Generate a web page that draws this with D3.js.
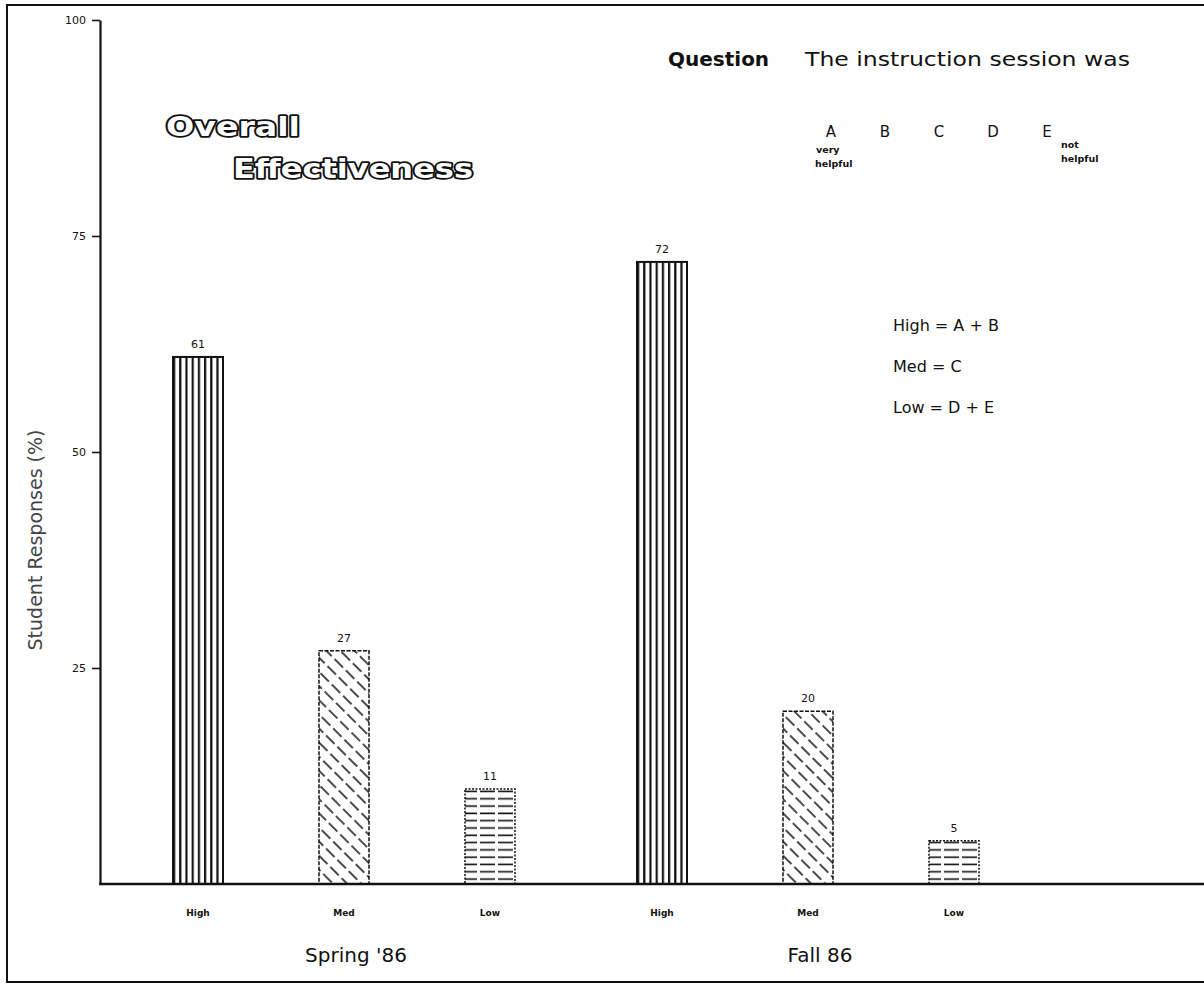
<!DOCTYPE html>
<html>
<head>
<meta charset="utf-8">
<script src="https://cdn.jsdelivr.net/npm/d3@7"></script>
<style>
  body { margin: 0; background: #fff; }
  text { font-family: "DejaVu Sans", sans-serif; fill: #111; }
</style>
</head>
<body>
<div id="chart"></div>
<script>
// data
var groups = ["Spring '86", "Fall 86"];
var levels = ["High", "Med", "Low"];
var spring = [61, 27, 11];
var fall = [72, 20, 5];
var yTicks = [25, 50, 75, 100];
var scaleLetters = ["A", "B", "C", "D", "E"];
var legendLines = ["High = A + B", "Med = C", "Low = D + E"];

var width = 1204, height = 985;
var svg = d3.select('#chart').append('svg')
  .attr('width', width).attr('height', height)
  .style('background', '#fff');

var defs = svg.append('defs');
// vertical stripes for High
var p1 = defs.append('pattern').attr('id', 'pHigh')
  .attr('patternUnits', 'userSpaceOnUse').attr('width', 6.2).attr('height', 10);
p1.append('rect').attr('x', 0).attr('width', 2.2).attr('height', 10).attr('fill', '#111');
// dashed backslash for Med
var p2 = defs.append('pattern').attr('id', 'pMed')
  .attr('patternUnits', 'userSpaceOnUse').attr('width', 16).attr('height', 10)
  .attr('patternTransform', 'rotate(45)');
p2.append('line').attr('x1', 0).attr('x2', 16).attr('y1', 5).attr('y2', 5)
  .attr('stroke', '#111').attr('stroke-width', 1.4).attr('stroke-dasharray', '9 4');
// dashed horizontal for Low
var p3 = defs.append('pattern').attr('id', 'pLow')
  .attr('patternUnits', 'userSpaceOnUse').attr('width', 18).attr('height', 7.3);
p3.append('line').attr('x1', 0).attr('x2', 18).attr('y1', 3).attr('y2', 3)
  .attr('stroke', '#111').attr('stroke-width', 1.6).attr('stroke-dasharray', '12 3');
var fills = { High: 'url(#pHigh)', Med: 'url(#pMed)', Low: 'url(#pLow)' };
var borders = { High: null, Med: '4 1.5', Low: '2 1.5' };

// page frame
svg.append('path')
  .attr('d', 'M1210,5H7V982H1210')
  .attr('fill', 'none').attr('stroke', '#111').attr('stroke-width', 2);

var y = d3.scaleLinear().domain([0, 100]).range([884, 20]);
var x0 = d3.scaleBand().domain(groups).range([125, 1053]);
var x1 = d3.scaleBand().domain(levels).range([0, 438])
  .paddingInner(0.6575).paddingOuter(0.32877);

var yAxis = svg.append('g').attr('transform', 'translate(100,0)')
  .call(d3.axisLeft(y).tickValues(yTicks).tickSize(8).tickSizeOuter(0).tickPadding(6));
yAxis.select('.domain').attr('stroke', '#111').attr('stroke-width', 2.2);
yAxis.selectAll('.tick line').attr('stroke', '#111').attr('stroke-width', 1.6);
yAxis.selectAll('.tick text').style('font-size', '11px').style('font-family', '"DejaVu Sans", sans-serif');

svg.append('text')
  .attr('transform', 'translate(42,540) rotate(-90)')
  .attr('text-anchor', 'middle')
  .style('font-size', '19px').style('fill', '#444')
  .text('Student Responses (%)');

var rows = [];
groups.forEach(function (g, gi) {
  var vals = gi == 0 ? spring : fall;
  levels.forEach(function (l, li) {
    rows.push({ group: g, level: l, value: vals[li] });
  });
});

var bars = svg.append('g').selectAll('g').data(rows).enter().append('g')
  .attr('transform', function (d) { return 'translate(' + (x0(d.group) + x1(d.level)) + ',0)'; });

bars.append('rect')
  .attr('x', 0).attr('width', x1.bandwidth())
  .attr('y', function (d) { return y(d.value); })
  .attr('height', function (d) { return y(0) - y(d.value); })
  .attr('fill', function (d) { return fills[d.level]; })
  .attr('stroke', '#111')
  .attr('stroke-width', function (d) { return d.level == 'High' ? 2 : 1.5; })
  .attr('stroke-dasharray', function (d) { return borders[d.level]; });

bars.append('text')
  .attr('x', x1.bandwidth() / 2)
  .attr('y', function (d) { return y(d.value) - 9; })
  .attr('text-anchor', 'middle')
  .style('font-size', '11px')
  .text(function (d) { return d.value; });

bars.append('text')
  .attr('x', x1.bandwidth() / 2).attr('y', 916)
  .attr('text-anchor', 'middle')
  .style('font-size', '9px').style('font-weight', 'bold')
  .text(function (d) { return d.level; });

// baseline
svg.append('line').attr('x1', 99).attr('x2', 1204).attr('y1', y(0)).attr('y2', y(0))
  .attr('stroke', '#111').attr('stroke-width', 2.4);

svg.selectAll('.grp').data(groups).enter().append('text')
  .attr('class', 'grp')
  .attr('x', function (g) { return x0(g) + x1('Med') + x1.bandwidth() / 2 + 12; })
  .attr('y', 962)
  .attr('text-anchor', 'middle')
  .style('font-size', '20px')
  .text(function (g) { return g; });

// title in outlined "blackletter" look
var title = svg.append('g').style('font-family', '"DejaVu Serif", serif')
  .style('font-weight', 'bold').style('font-size', '27px');
title.append('text').attr('x', 166).attr('y', 136).attr('textLength', 134)
  .attr('lengthAdjust', 'spacingAndGlyphs').text('Overall');
title.append('text').attr('x', 233).attr('y', 178).attr('textLength', 240)
  .attr('lengthAdjust', 'spacingAndGlyphs').text('Effectiveness');
title.selectAll('text').style('fill', '#fff').style('stroke', '#111')
  .style('stroke-width', '3.5px').style('paint-order', 'stroke').style('stroke-linejoin', 'round');

svg.append('text').attr('x', 668).attr('y', 66)
  .style('font-size', '20px').style('font-weight', 'bold').text('Question');
svg.append('text').attr('x', 805).attr('y', 66)
  .style('font-size', '20px').attr('textLength', 325).attr('lengthAdjust', 'spacingAndGlyphs')
  .text('The instruction session was');

var letterX = d3.scalePoint().domain(scaleLetters).range([831, 1047]);
svg.selectAll('.ltr').data(scaleLetters).enter().append('text')
  .attr('class', 'ltr')
  .attr('x', function (d) { return letterX(d); }).attr('y', 137)
  .attr('text-anchor', 'middle').style('font-size', '15px')
  .text(function (d) { return d; });

var small = svg.append('g').style('font-size', '9.5px').style('font-weight', 'bold');
small.append('text').attr('x', 816).attr('y', 153).text('very');
small.append('text').attr('x', 815).attr('y', 167).text('helpful');
small.append('text').attr('x', 1061).attr('y', 148).text('not');
small.append('text').attr('x', 1061).attr('y', 162).text('helpful');

svg.selectAll('.leg').data(legendLines).enter().append('text')
  .attr('class', 'leg')
  .attr('x', 893).attr('y', function (d, i) { return 331 + i * 41; })
  .style('font-size', '16px')
  .text(function (d) { return d; });
</script>
</body>
</html>
